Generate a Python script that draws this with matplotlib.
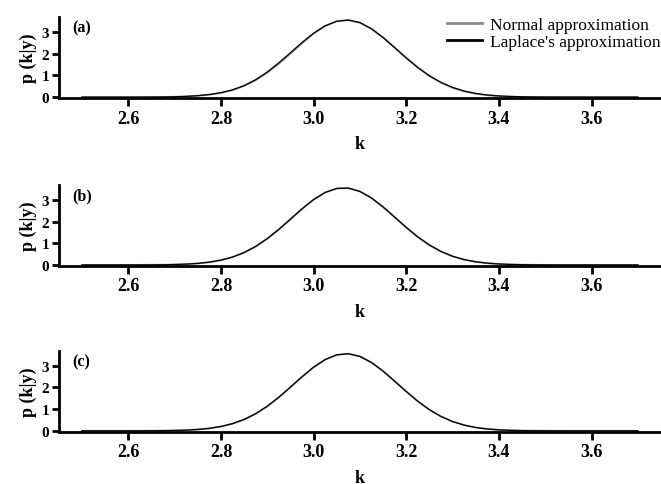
import matplotlib
matplotlib.use("Agg")
import matplotlib.pyplot as plt

plt.rcParams["font.family"] = ["Liberation Serif", "DejaVu Serif"]

# k grid and densities
k = [2.500, 2.525, 2.550, 2.575, 2.600, 2.625, 2.650, 2.675, 2.700, 2.725,
     2.750, 2.775, 2.800, 2.825, 2.850, 2.875, 2.900, 2.925, 2.950, 2.975,
     3.000, 3.025, 3.050, 3.075, 3.100, 3.125, 3.150, 3.175, 3.200, 3.225,
     3.250, 3.275, 3.300, 3.325, 3.350, 3.375, 3.400, 3.425, 3.450, 3.475,
     3.500, 3.525, 3.550, 3.575, 3.600, 3.625, 3.650, 3.675, 3.700]

normal_a = [0.0, 0.0, 0.0, 0.0, 0.0, 0.001, 0.003, 0.007, 0.015, 0.031,
            0.060, 0.111, 0.195, 0.326, 0.518, 0.783, 1.125, 1.541, 2.006, 2.485,
            2.931, 3.285, 3.505, 3.558, 3.436, 3.157, 2.760, 2.295, 1.816, 1.367,
            0.980, 0.667, 0.432, 0.267, 0.156, 0.087, 0.046, 0.024, 0.011, 0.005,
            0.002, 0.001, 0.0, 0.0, 0.0, 0.0, 0.0, 0.0, 0.0]
laplace_a = [0.0, 0.0, 0.0, 0.0, 0.0, 0.001, 0.003, 0.008, 0.017, 0.035,
             0.068, 0.122, 0.205, 0.335, 0.530, 0.805, 1.160, 1.585, 2.050, 2.520,
             2.950, 3.290, 3.500, 3.555, 3.440, 3.150, 2.745, 2.280, 1.805, 1.365,
             0.985, 0.680, 0.448, 0.282, 0.170, 0.098, 0.055, 0.030, 0.016, 0.008,
             0.004, 0.002, 0.001, 0.0, 0.0, 0.0, 0.0, 0.0, 0.0]

normal_b = [0.0, 0.0, 0.0, 0.0, 0.0, 0.002, 0.004, 0.008, 0.018, 0.036,
            0.068, 0.125, 0.217, 0.359, 0.564, 0.845, 1.204, 1.631, 2.102, 2.579,
            3.010, 3.342, 3.530, 3.548, 3.392, 3.086, 2.670, 2.200, 1.723, 1.284,
            0.910, 0.614, 0.394, 0.241, 0.140, 0.077, 0.041, 0.020, 0.010, 0.004,
            0.002, 0.001, 0.0, 0.0, 0.0, 0.0, 0.0, 0.0, 0.0]
laplace_b = [0.0, 0.0, 0.0, 0.0, 0.0, 0.002, 0.004, 0.009, 0.019, 0.038,
             0.071, 0.130, 0.223, 0.366, 0.572, 0.856, 1.218, 1.645, 2.115, 2.590,
             3.018, 3.345, 3.528, 3.545, 3.392, 3.090, 2.678, 2.210, 1.735, 1.296,
             0.922, 0.625, 0.403, 0.249, 0.146, 0.082, 0.045, 0.023, 0.012, 0.006,
             0.003, 0.001, 0.0, 0.0, 0.0, 0.0, 0.0, 0.0, 0.0]

normal_c = [0.0, 0.0, 0.0, 0.0, 0.0, 0.001, 0.003, 0.007, 0.015, 0.031,
            0.060, 0.111, 0.195, 0.326, 0.518, 0.783, 1.125, 1.541, 2.006, 2.485,
            2.931, 3.285, 3.505, 3.558, 3.436, 3.157, 2.760, 2.295, 1.816, 1.367,
            0.980, 0.667, 0.432, 0.267, 0.156, 0.087, 0.046, 0.024, 0.011, 0.005,
            0.002, 0.001, 0.0, 0.0, 0.0, 0.0, 0.0, 0.0, 0.0]
laplace_c = [0.0, 0.0, 0.0, 0.0, 0.0, 0.001, 0.003, 0.007, 0.016, 0.032,
             0.062, 0.114, 0.200, 0.332, 0.525, 0.792, 1.135, 1.552, 2.018, 2.495,
             2.938, 3.288, 3.505, 3.556, 3.432, 3.150, 2.752, 2.288, 1.810, 1.360,
             0.972, 0.658, 0.424, 0.260, 0.150, 0.082, 0.042, 0.020, 0.009, 0.004,
             0.002, 0.001, 0.0, 0.0, 0.0, 0.0, 0.0, 0.0, 0.0]

panels = ["(a)", "(b)", "(c)"]
normals = [normal_a, normal_b, normal_c]
laplaces = [laplace_a, laplace_b, laplace_c]
xticks = [2.6, 2.8, 3.0, 3.2, 3.4, 3.6]
yticks = [0, 1, 2, 3]

fig = plt.figure(figsize=(6.61, 4.85), dpi=100)
bottoms = [0.795, 0.449, 0.107]
axes = []
for i in range(3):
    ax = fig.add_axes([0.089, bottoms[i], 0.911, 0.168])
    ax.plot(k, normals[i], color="#8a8a8a", lw=1.3, label="Normal approximation")
    ax.plot(k, laplaces[i], color="black", lw=0.9, label="Laplace's approximation")
    ax.set_xlim(2.45, 3.75)
    ax.set_ylim(-0.06, 3.7)
    ax.set_xticks(xticks)
    ax.set_xticklabels([f"{t:.1f}" for t in xticks])
    ax.set_yticks(yticks)
    for s in ["top", "right"]:
        ax.spines[s].set_visible(False)
    for s in ["left", "bottom"]:
        ax.spines[s].set_linewidth(2)
    ax.tick_params(axis="x", width=2, length=6, labelsize=13, pad=2)
    ax.tick_params(axis="y", width=2, length=5, labelsize=11, pad=2)
    for lab in ax.get_xticklabels() + ax.get_yticklabels():
        lab.set_fontweight("bold")
    ax.set_xlabel("k", fontsize=13, fontweight="bold", labelpad=6)
    ax.set_ylabel("p (k|y)", fontsize=13, fontweight="bold", labelpad=3)
    ax.text(0.022, 0.97, panels[i], transform=ax.transAxes, fontsize=11.5,
            fontweight="bold", va="top", ha="left")
    axes.append(ax)

leg = axes[0].legend(loc="upper right", bbox_to_anchor=(1.005, 1.04), frameon=False,
                     fontsize=12.5, handlelength=2.0, handletextpad=0.45,
                     borderaxespad=0, borderpad=0.2, labelspacing=0.05)
for h in leg.get_lines():
    h.set_linewidth(2)

fig.savefig("out.png", dpi=100)
plt.close()
